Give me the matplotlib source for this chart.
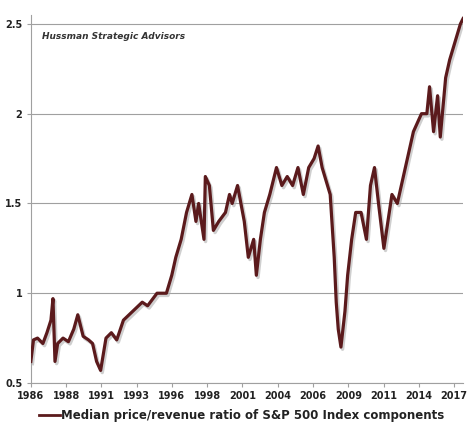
import matplotlib
matplotlib.use("Agg")
import matplotlib.pyplot as plt
from matplotlib.lines import Line2D

# x positions as fractional years
years = [1986.0,1986.2,1986.5,1986.9,1987.2,1987.5,1987.65,1987.8,1988.0,1988.4,1988.8,1989.2,1989.5,
         1989.9,1990.3,1990.6,1990.9,1991.2,1991.6,1992.0,1992.4,1992.9,1993.6,1994.3,1994.7,1995.4,
         1996.1,1996.5,1996.8,1997.2,1997.6,1998.0,1998.3,1998.5,1998.9,1999.0,1999.3,1999.6,2000.0,
         2000.5,2000.8,2001.0,2001.4,2001.9,2002.2,2002.6,2002.8,2003.1,2003.4,2003.8,2004.3,2004.7,
         2005.1,2005.5,2005.9,2006.3,2006.7,2007.1,2007.4,2007.7,2008.1,2008.3,2008.6,2008.75,2008.9,
         2009.1,2009.4,2009.6,2009.9,2010.2,2010.6,2011.0,2011.3,2011.6,2011.9,2012.3,2012.7,2012.9,
         2013.3,2013.9,2014.5,2015.1,2015.5,2015.7,2016.0,2016.3,2016.5,2016.9,2017.2,2017.6,2018.0,2018.2]
values = [0.62,0.74,0.75,0.72,0.78,0.85,0.97,0.62,0.72,0.75,0.73,0.80,0.88,
          0.76,0.74,0.72,0.62,0.57,0.75,0.78,0.74,0.85,0.90,0.95,0.93,1.00,
          1.00,1.10,1.20,1.30,1.45,1.55,1.40,1.50,1.30,1.65,1.60,1.35,1.40,
          1.45,1.55,1.50,1.60,1.40,1.20,1.30,1.10,1.30,1.45,1.55,1.70,1.60,
          1.65,1.60,1.70,1.55,1.70,1.75,1.82,1.70,1.60,1.55,1.20,0.95,0.80,
          0.70,0.90,1.10,1.30,1.45,1.45,1.30,1.60,1.70,1.50,1.25,1.45,1.55,
          1.50,1.70,1.90,2.00,2.00,2.15,1.90,2.10,1.87,2.20,2.30,2.40,2.50,2.53]
tick_labels = ["1986","1988","1991","1993","1996","1998","2001","2004","2006","2009","2011","2014","2017"]
yticks = [0.5, 1, 1.5, 2, 2.5]
ytick_labels = ["0.5", "1", "1.5", "2", "2.5"]
series_label = "Median price/revenue ratio of S&P 500 Index components"

col = "#5b1a1c"
fig = plt.figure(figsize=(4.74, 4.33), dpi=100)
ax = fig.add_axes([0.065, 0.1155, 0.912, 0.85])
ax.plot([y + 0.12 for y in years], [v - 0.012 for v in values], color="#b0b0b0", lw=2.5, alpha=0.6, zorder=2)
ax.plot(years, values, color=col, lw=2.3, zorder=3)
x0, x1 = 1986.0, 2018.2
ax.set_xlim(x0, x1)
ax.set_ylim(0.5, 2.55)
step = (x1 - x0) * (423 / 432) / 12
ax.set_xticks([x0 + i * step for i in range(13)])
ax.set_xticklabels(tick_labels, fontsize=7, fontweight="bold", color="#222222")
ax.set_yticks(yticks)
ax.set_yticklabels(ytick_labels, fontsize=7, fontweight="bold", color="#222222")
ax.grid(axis="y", color="#a0a0a0", lw=0.8)
ax.set_axisbelow(True)
for s in ["top", "right"]:
    ax.spines[s].set_visible(False)
for s in ["left", "bottom"]:
    ax.spines[s].set_color("#a0a0a0")
ax.tick_params(axis="both", color="#a0a0a0", length=3, pad=3)
ax.text(0.025, 0.955, "Hussman Strategic Advisors", transform=ax.transAxes,
        fontsize=6.5, fontstyle="italic", fontweight="bold", color="#333333", va="top")
leg = fig.legend([Line2D([0], [0], color=col, lw=2)], [series_label], loc="center",
                 bbox_to_anchor=(0.51, 0.04), frameon=False, fontsize=8.5,
                 handlelength=1.8, handletextpad=0.1)
for t in leg.get_texts():
    t.set_fontweight("bold"); t.set_color("#222222")
fig.savefig("out.png", dpi=100)
